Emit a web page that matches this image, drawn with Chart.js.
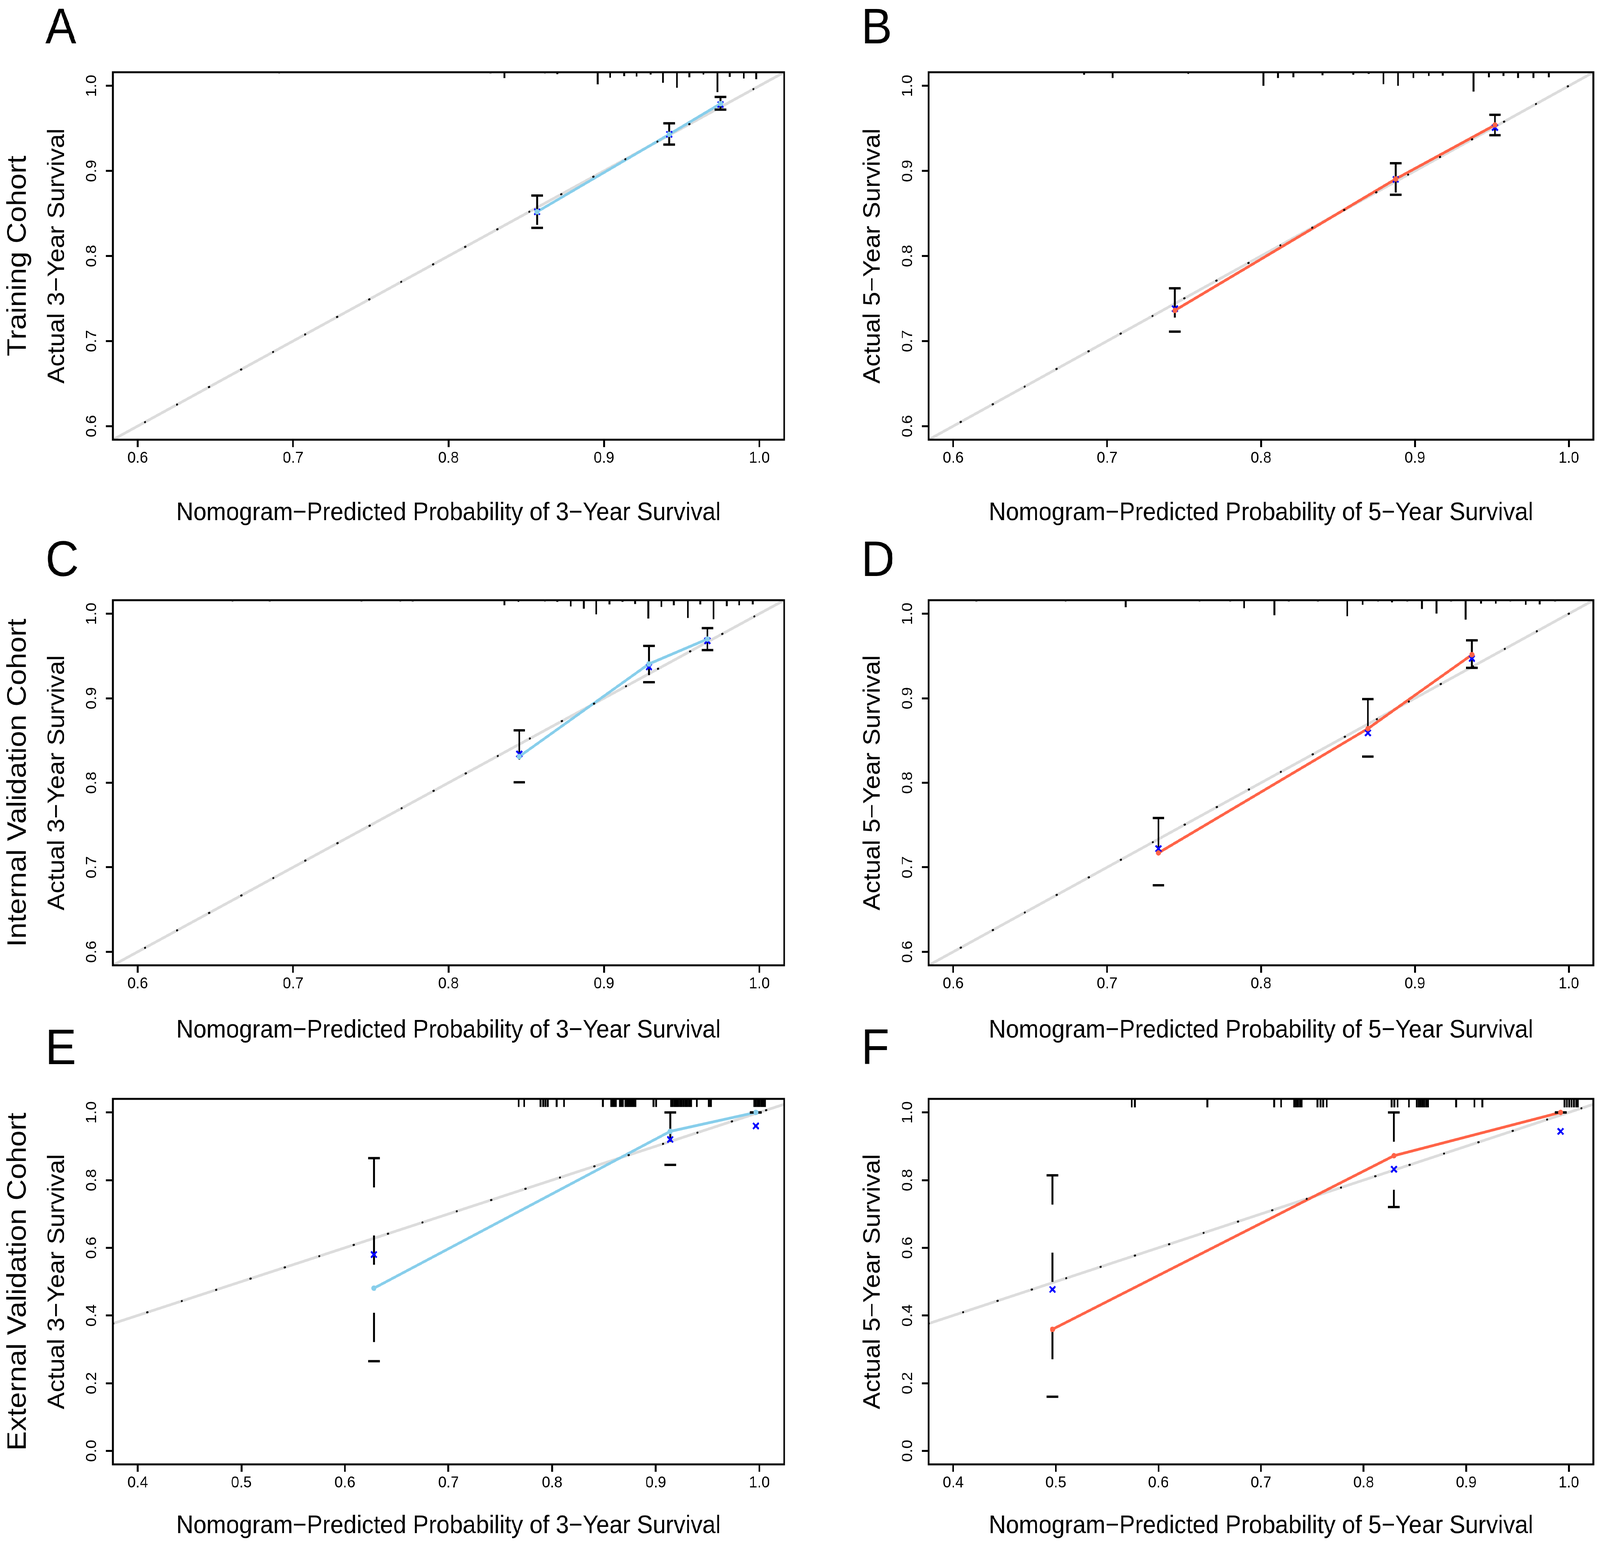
<!DOCTYPE html>
<html>
<head>
<meta charset="utf-8">
<title>Nomogram calibration curves</title>
<script src="https://cdn.jsdelivr.net/npm/chart.js@4.4.1/dist/chart.umd.min.js"></script>
<style>
  html, body { margin: 0; padding: 0; background: #fff; overflow: hidden; }
  #page { position: relative; width: 4409px; height: 3959px; background: #fff; overflow: hidden; transform-origin: 0 0; }
  .panel { position: absolute; }
  .panel canvas { display: block; }
</style>
</head>
<body>
<div id="page"></div>
<script>
// ---------------- values ----------------
const ticksMain = [0.6, 0.7, 0.8, 0.9, 1.0];
const xTicksExt = [0.4, 0.5, 0.6, 0.7, 0.8, 0.9, 1.0];
const yTicksExt = [0.0, 0.2, 0.4, 0.6, 0.8, 1.0];

const xTitle3 = 'Nomogram\u2212Predicted Probability of 3\u2212Year Survival';
const xTitle5 = 'Nomogram\u2212Predicted Probability of 5\u2212Year Survival';
const yTitle3 = 'Actual 3\u2212Year Survival';
const yTitle5 = 'Actual 5\u2212Year Survival';
const rowLabels = ['Training Cohort', 'Internal Validation Cohort', 'External Validation Cohort'];

// A - training, 3 year
const predA = [0.857, 0.942, 0.975];
const obsA  = [0.852, 0.943, 0.979];
const corA  = [0.852, 0.943, 0.978];
const loA   = [0.833, 0.931, 0.972];
const hiA   = [0.871, 0.956, 0.987];
const rugXA = [0.691, 0.827, 0.836, 0.862, 0.870, 0.896, 0.904, 0.913, 0.921, 0.930, 0.938, 0.947, 0.955, 0.964, 0.973, 0.981, 0.990, 0.998];
const rugHA = [0.0014, 0.0014, 0.0069, 0.0014, 0.0023, 0.0142, 0.0064, 0.0046, 0.0050, 0.0027, 0.0124, 0.0183, 0.0060, 0.0027, 0.0234, 0.0055, 0.0073, 0.0082];

// B - training, 5 year
const predB = [0.744, 0.8875, 0.952];
const obsB  = [0.736, 0.8905, 0.954];
const corB  = [0.738, 0.890, 0.951];
const loB   = [0.711, 0.872, 0.942];
const hiB   = [0.762, 0.909, 0.966];
const rugXB = [0.685, 0.7036, 0.7527, 0.8015, 0.811, 0.821, 0.840, 0.860, 0.870, 0.8795, 0.889, 0.899, 0.909, 0.918, 0.938, 0.948, 0.9575, 0.967, 0.977, 0.987];
const rugHB = [0.003, 0.0068, 0.002, 0.016, 0.0068, 0.006, 0.0036, 0.003, 0.002, 0.014, 0.016, 0.0068, 0.0044, 0.004, 0.0227, 0.006, 0.0044, 0.0068, 0.0068, 0.006];

// C - internal validation, 3 year
const predC = [0.8455, 0.929, 0.9666];
const obsC  = [0.831, 0.9406, 0.970];
const corC  = [0.834, 0.937, 0.968];
const loC   = [0.8006, 0.919, 0.957];
const hiC   = [0.862, 0.962, 0.983];
const rugXC = [0.661, 0.685, 0.744, 0.769, 0.777, 0.836, 0.845, 0.862, 0.870, 0.8786, 0.887, 0.895, 0.9035, 0.912, 0.920, 0.9286, 0.937, 0.945, 0.954, 0.962, 0.9705, 0.979, 0.987, 0.9957];
const rugHC = [0.0015, 0.0015, 0.0015, 0.0015, 0.0015, 0.006, 0.002, 0.0015, 0.002, 0.0074, 0.010, 0.0168, 0.005, 0.002, 0.0045, 0.0217, 0.008, 0.006, 0.021, 0.005, 0.0225, 0.007, 0.006, 0.005];

// D - internal validation, 5 year
const predD = [0.7333, 0.8694, 0.937];
const obsD  = [0.717, 0.864, 0.9515];
const corD  = [0.722, 0.859, 0.947];
const loD   = [0.6787, 0.831, 0.936];
const hiD   = [0.7583, 0.899, 0.9685];
const rugXD = [0.615, 0.673, 0.712, 0.760, 0.780, 0.789, 0.8086, 0.818, 0.837, 0.856, 0.866, 0.876, 0.885, 0.895, 0.9045, 0.914, 0.9235, 0.933, 0.943, 0.9525, 0.962, 0.972, 0.981, 0.991];
const rugHD = [0.0015, 0.0015, 0.0083, 0.0015, 0.0015, 0.0095, 0.0178, 0.0015, 0.0015, 0.019, 0.0054, 0.0015, 0.0025, 0.0015, 0.0104, 0.0158, 0.0015, 0.023, 0.004, 0.004, 0.0015, 0.0054, 0.005, 0.0015];

// E - external validation, 3 year
const predE = [0.628, 0.914, 0.9966];
const obsE  = [0.4806, 0.944, 1.0];
const corE  = [0.580, 0.920, 0.960];
const loE   = [0.265, 0.845, 1.0];
const hiE   = [0.865, 1.0, 1.0];
const rugXE = [0.7677, 0.7730, 0.7889, 0.7913, 0.7936, 0.7957, 0.8044, 0.8115, 0.8490, 0.8569, 0.8585, 0.8600, 0.8616,
               0.8654, 0.8668, 0.8682, 0.8707, 0.8724, 0.8738, 0.8755, 0.8773, 0.8790, 0.8804, 0.8979, 0.9003,
               0.9148, 0.9165, 0.9183, 0.9200, 0.9217, 0.9235, 0.9252, 0.9270, 0.9288, 0.9305, 0.9323, 0.9340,
               0.9397, 0.9514, 0.9532, 0.9950, 0.9967, 0.9985, 1.0002, 1.0020, 1.0037, 1.0055];
const rugHE = 0.024;   // one observation per tick

// F - external validation, 5 year
const predF = [0.4967, 0.8295, 0.992];
const obsF  = [0.359, 0.872, 1.0];
const corF  = [0.477, 0.832, 0.944];
const loF   = [0.160, 0.7205, 1.0];
const hiF   = [0.814, 1.0, 1.0];
const rugXF = [0.574, 0.577, 0.6476, 0.7127, 0.7195, 0.7323, 0.7341, 0.7359, 0.7378, 0.7396, 0.7551, 0.7579, 0.7606, 0.7640,
               0.8272, 0.8300, 0.8331, 0.8441, 0.8518, 0.8537, 0.8555, 0.8573, 0.8591, 0.8610, 0.8628, 0.8902, 0.9080,
               0.9157, 0.9958, 0.9981, 1.0004, 1.0027, 1.0050, 1.0072, 1.0088];
const rugHF = 0.025;

// ---------------- layout and styles ----------------
const PAGE_W = 4409, PAGE_H = 3959;
const SKY = '#87CEEB';
const TOMATO = '#FF6347';
const COL_L = [311, 2559], COL_R = [2161, 4391];
const ROW_T = [185, 1537, 2814], ROW_B = [1126, 2472, 3750];
const X_TITLE_OFF = [188, 167, 158];
const LETTER_DY = [-74, -62, -89];
const Y_AXIS_W = 192, ROW_AXIS_W = 114, PAD_TOP = 200, PAD_RIGHT = 20;
const FONT = "'Liberation Sans', Arial, Helvetica, sans-serif";

Chart.defaults.font.family = FONT;
Chart.defaults.color = '#000';

const lim06 = [0.584, 1.016];
const panels = [
  {letter: 'A', col: 0, row: 0, pred: predA, obs: obsA, cor: corA, lo: loA, hi: hiA, rugX: rugXA, rugH: rugHA,
   color: SKY, xTitle: xTitle3, yTitle: yTitle3, xLim: lim06, yLim: lim06, xTicks: ticksMain, yTicks: ticksMain},
  {letter: 'B', col: 1, row: 0, pred: predB, obs: obsB, cor: corB, lo: loB, hi: hiB, rugX: rugXB, rugH: rugHB,
   color: TOMATO, xTitle: xTitle5, yTitle: yTitle5, xLim: lim06, yLim: lim06, xTicks: ticksMain, yTicks: ticksMain},
  {letter: 'C', col: 0, row: 1, pred: predC, obs: obsC, cor: corC, lo: loC, hi: hiC, rugX: rugXC, rugH: rugHC,
   color: SKY, xTitle: xTitle3, yTitle: yTitle3, xLim: lim06, yLim: lim06, xTicks: ticksMain, yTicks: ticksMain},
  {letter: 'D', col: 1, row: 1, pred: predD, obs: obsD, cor: corD, lo: loD, hi: hiD, rugX: rugXD, rugH: rugHD,
   color: TOMATO, xTitle: xTitle5, yTitle: yTitle5, xLim: lim06, yLim: lim06, xTicks: ticksMain, yTicks: ticksMain},
  {letter: 'E', col: 0, row: 2, pred: predE, obs: obsE, cor: corE, lo: loE, hi: hiE, rugX: rugXE, rugH: rugHE,
   color: SKY, xTitle: xTitle3, yTitle: yTitle3, xLim: [0.376, 1.024], yLim: [-0.04, 1.04], xTicks: xTicksExt, yTicks: yTicksExt},
  {letter: 'F', col: 1, row: 2, pred: predF, obs: obsF, cor: corF, lo: loF, hi: hiF, rugX: rugXF, rugH: rugHF,
   color: TOMATO, xTitle: xTitle5, yTitle: yTitle5, xLim: [0.376, 1.024], yLim: [-0.04, 1.04], xTicks: xTicksExt, yTicks: yTicksExt}
];

// box frame + panel letter
const framePlugin = {
  id: 'frame',
  afterDraw(chart, args, opts) {
    const {ctx, chartArea: a} = chart;
    ctx.save();
    ctx.strokeStyle = '#000';
    ctx.lineWidth = 5;
    ctx.strokeRect(a.left, a.top, a.right - a.left, a.bottom - a.top);
    ctx.fillStyle = '#000';
    ctx.font = '128px ' + FONT;
    ctx.textAlign = 'left';
    ctx.textBaseline = 'alphabetic';
    ctx.fillText(opts.letter, a.left - 186, a.top + opts.dy);
    ctx.restore();
  }
};

const page = document.getElementById('page');
// the browser caps the window width (4096 css px here): stretch the figure to fill the viewport
const sx = Math.min(1, window.innerWidth / PAGE_W);
const sy = Math.min(1, window.innerHeight / PAGE_H);
page.style.transform = 'scale(' + sx + ',' + sy + ')';
document.body.style.width = Math.ceil(PAGE_W * sx) + 'px';
document.body.style.height = Math.ceil(PAGE_H * sy) + 'px';

function tickGrid() {
  return {display: true, drawOnChartArea: false, drawTicks: true, tickLength: 19,
          tickWidth: 5, lineWidth: 5, color: '#000', tickColor: '#000'};
}

function buildPanel(p) {
  const boxL = COL_L[p.col], boxR = COL_R[p.col];
  const boxT = ROW_T[p.row], boxB = ROW_B[p.row];
  const xAxisH = X_TITLE_OFF[p.row] + 39;
  const leftW = Y_AXIS_W + (p.col === 0 ? ROW_AXIS_W : 0);
  const left = boxL - leftW, top = boxT - PAD_TOP;
  const width = boxR + PAD_RIGHT - left, height = boxB + xAxisH - top;

  const div = document.createElement('div');
  div.className = 'panel';
  div.style.left = left + 'px';
  div.style.top = top + 'px';
  div.style.width = width + 'px';
  div.style.height = height + 'px';
  const canvas = document.createElement('canvas');
  canvas.width = width;
  canvas.height = height;
  canvas.style.width = width + 'px';
  canvas.style.height = height + 'px';
  div.appendChild(canvas);
  page.appendChild(div);

  const yMax = p.yLim[1];
  const datasets = [];

  // distribution of predictions (rug along the top)
  const rug = [];
  p.rugX.forEach((x, i) => {
    const h = Array.isArray(p.rugH) ? p.rugH[i] : p.rugH;
    rug.push({x: x, y: yMax}, {x: x, y: yMax - h}, {x: null, y: null});
  });
  datasets.push({data: rug, showLine: true, spanGaps: false, borderColor: '#000', borderWidth: 5,
                 pointRadius: 0, order: 9});

  // ideal line, grey with black dots
  const ideal = [{x: p.xLim[0], y: p.xLim[0]}, {x: p.xLim[1], y: p.xLim[1]}];
  datasets.push({data: ideal, showLine: true, borderColor: '#DCDCDC', borderWidth: 7, pointRadius: 0, order: 8});
  datasets.push({data: ideal, showLine: true, borderColor: '#000', borderWidth: 5, borderDash: [1, 98],
                 borderCapStyle: 'round', pointRadius: 0, order: 6});

  // observed calibration line
  const obsPts = p.pred.map((x, i) => ({x: x, y: p.obs[i]}));
  datasets.push({data: obsPts, showLine: true, borderColor: p.color, borderWidth: 7, pointRadius: 0, order: 7});

  // error bars (dashed, top to bottom)
  p.pred.forEach((x, i) => {
    datasets.push({data: [{x: x, y: p.hi[i]}, {x: x, y: p.lo[i]}], showLine: true, borderColor: '#000',
                   borderWidth: 5, borderDash: [75, 123], pointRadius: 0, order: 5});
  });
  // caps
  const caps = [];
  p.pred.forEach((x, i) => { caps.push({x: x, y: p.hi[i]}, {x: x, y: p.lo[i]}); });
  datasets.push({data: caps, showLine: false, pointStyle: 'line', pointRadius: 16, pointBorderWidth: 6,
                 pointBorderColor: '#000', borderColor: '#000', order: 4});

  // bias-corrected estimates
  datasets.push({data: p.pred.map((x, i) => ({x: x, y: p.cor[i]})), showLine: false, pointStyle: 'crossRot',
                 pointRadius: 11, pointBorderWidth: 5, pointBorderColor: '#0000FF', borderColor: '#0000FF', order: 3});

  // observed points
  datasets.push({data: obsPts, showLine: false, pointStyle: 'circle', pointRadius: 7, pointBorderWidth: 0,
                 pointBackgroundColor: p.color, backgroundColor: p.color, order: 1});

  const scales = {
    x: {
      type: 'linear', position: 'bottom', min: p.xLim[0], max: p.xLim[1], bounds: 'data',
      afterBuildTicks: s => { s.ticks = p.xTicks.map(v => ({value: v})); },
      afterFit: s => { s.height = xAxisH; },
      ticks: {font: {size: 41}, color: '#000', padding: 4, maxRotation: 0, minRotation: 0, autoSkip: false,
              callback: v => Number(v).toFixed(1)},
      grid: tickGrid(),
      border: {display: false},
      title: {display: true, text: p.xTitle, font: {size: 65}, color: '#000', padding: 0}
    },
    y: {
      type: 'linear', position: 'left', min: p.yLim[0], max: p.yLim[1], bounds: 'data', weight: 0,
      afterBuildTicks: s => { s.ticks = p.yTicks.map(v => ({value: v})); },
      afterFit: s => { s.width = Y_AXIS_W; },
      ticks: {font: {size: 41}, color: '#000', padding: 9.5, minRotation: 90, maxRotation: 90,
              crossAlign: 'center', autoSkip: false, callback: v => Number(v).toFixed(1)},
      grid: tickGrid(),
      border: {display: false},
      title: {display: true, text: p.yTitle, font: {size: 65}, color: '#000', padding: 0}
    }
  };
  if (p.col === 0) {
    scales.rowLabel = {
      type: 'linear', axis: 'y', position: 'left', weight: 1,
      afterFit: s => { s.width = ROW_AXIS_W; },
      ticks: {display: false},
      grid: {display: false},
      border: {display: false},
      title: {display: true, text: rowLabels[p.row], font: {size: 75}, color: '#000', padding: 0}
    };
  }

  new Chart(canvas, {
    type: 'scatter',
    data: {datasets: datasets},
    options: {
      responsive: false,
      devicePixelRatio: 1,
      animation: false,
      events: [],
      layout: {padding: {top: PAD_TOP, right: PAD_RIGHT, left: 0, bottom: 0}, autoPadding: false},
      plugins: {
        legend: {display: false},
        tooltip: {enabled: false},
        frame: {letter: p.letter, dy: LETTER_DY[p.row]}
      },
      scales: scales
    },
    plugins: [framePlugin]
  });
}

panels.forEach(buildPanel);
</script>
</body>
</html>
